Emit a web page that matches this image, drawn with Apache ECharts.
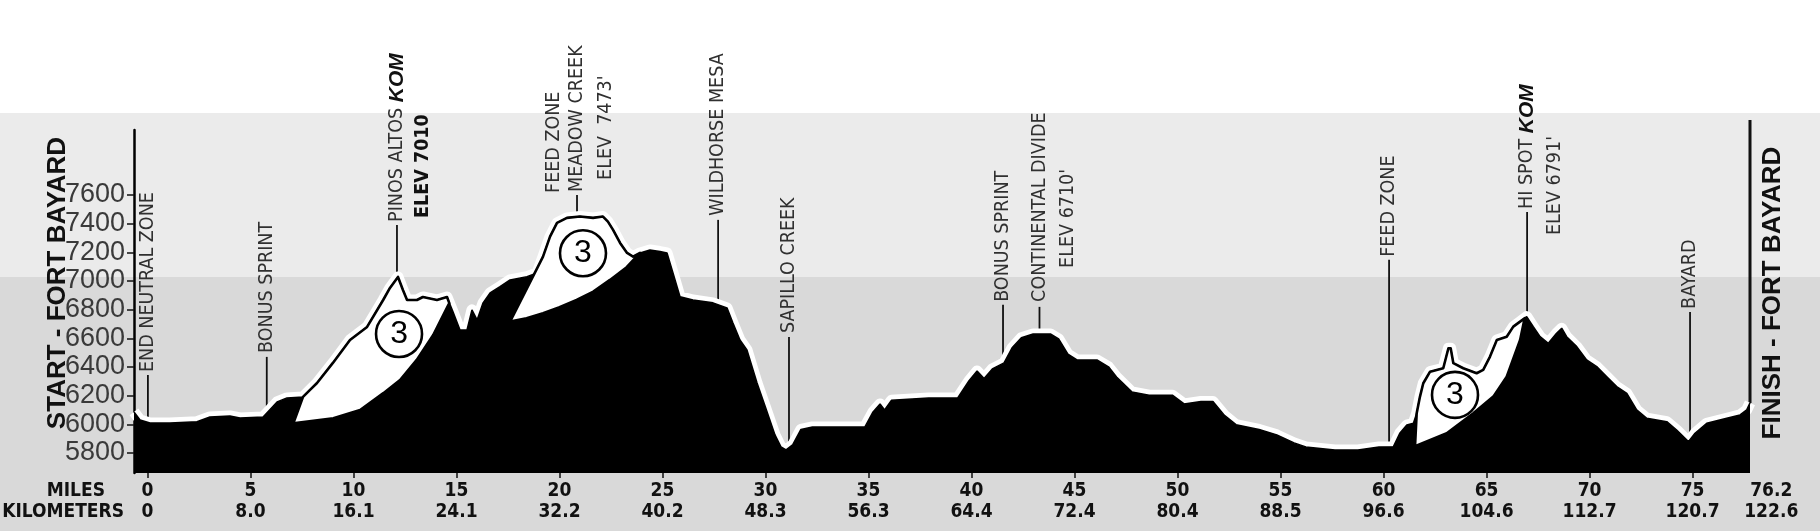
<!DOCTYPE html>
<html><head><meta charset="utf-8">
<script src="https://cdn.jsdelivr.net/npm/echarts@6/dist/echarts.min.js"></script>
<style>
html,body{margin:0;padding:0;}
body{width:1820px;height:531px;overflow:hidden;background:linear-gradient(to bottom,#ffffff 0,#ffffff 113px,#ebebeb 113px,#ebebeb 277px,#d9d9d9 277px,#d9d9d9 100%);}
#chart{width:1820px;height:531px;}
</style></head><body><div id="chart"></div>
<script>
// ---- DATA (miles, elevation ft) ----
const profile = [[-0.655,6086],[-0.36,6030],[0.12,6009],[1.09,6009],[2.4,6018],[3.03,6051],[4.0,6058],[4.49,6044],[5.61,6051],[6.29,6156],[6.77,6184],[7.55,6191],[7.89,6240],[8.23,6288],[9.0,6428],[9.83,6588],[10.66,6679],[11.44,6867],[11.77,6951],[12.16,7028],[12.4,6937],[12.6,6867],[13.08,6867],[13.37,6888],[14.05,6867],[14.54,6888],[14.83,6784],[15.17,6658],[15.51,6658],[15.75,6798],[16.0,6728],[16.29,6847],[16.63,6916],[17.11,6960],[17.6,7007],[18.42,7030],[18.91,7056],[19.2,7170],[19.54,7309],[19.88,7405],[20.36,7440],[20.99,7449],[21.63,7440],[22.11,7449],[22.35,7414],[22.6,7356],[22.94,7265],[23.28,7195],[23.57,7170],[23.91,7195],[24.39,7216],[24.88,7205],[25.22,7195],[25.51,7056],[25.85,6890],[26.48,6867],[27.45,6847],[28.13,6812],[28.42,6707],[28.76,6588],[29.1,6519],[29.59,6288],[30.02,6110],[30.46,5926],[30.75,5842],[31.0,5821],[31.33,5859],[31.72,5964],[32.28,5981],[34.82,5981],[35.22,6086],[35.56,6142],[35.78,6100],[36.11,6167],[37.92,6184],[39.33,6184],[39.88,6304],[40.27,6372],[40.61,6320],[41.01,6386],[41.58,6428],[41.97,6533],[42.42,6604],[42.99,6630],[43.83,6630],[44.23,6595],[44.68,6490],[45.12,6449],[46.09,6449],[46.65,6401],[47.04,6330],[47.78,6226],[48.62,6203],[49.75,6203],[50.32,6142],[51.14,6159],[51.72,6159],[52.28,6062],[52.84,5997],[53.96,5964],[54.82,5926],[55.66,5870],[56.23,5842],[57.64,5821],[58.76,5821],[59.78,5842],[60.48,5844],[60.8,5940],[61.13,5995],[61.45,6007],[61.61,6077],[61.77,6193],[61.93,6286],[62.26,6367],[62.9,6391],[63.15,6530],[63.26,6530],[63.39,6426],[63.87,6391],[64.52,6356],[64.84,6379],[65.17,6472],[65.5,6588],[65.98,6611],[66.3,6681],[66.63,6716],[66.95,6751],[67.27,6681],[67.6,6611],[68.0,6565],[68.4,6635],[68.65,6670],[68.89,6611],[69.38,6542],[69.86,6449],[70.35,6402],[70.84,6332],[71.32,6263],[71.81,6216],[72.29,6100],[72.78,6042],[73.75,6018],[74.23,5960],[74.8,5879],[75.12,5937],[75.69,6007],[76.66,6042],[77.31,6065],[77.63,6100],[77.79,6149]];

// lower edge of each climb wedge (start at foot, end at tip on profile)
const climbArc1 = [[7.08,6007],[9.02,6042],[10.32,6100],[11.45,6217],[12.26,6309],[13.07,6449],[13.87,6623],[14.65,6845]];
const climbArc2 = [[17.6,6716],[18.4,6740],[19.2,6775],[20.0,6816],[20.83,6867],[21.64,6925],[22.45,7007],[23.26,7096],[23.91,7195]];
const climbArc3 = [[61.53,5847],[63.07,5937],[64.36,6077],[65.33,6193],[65.98,6332],[66.63,6588],[66.85,6740]];
const climbArcs = [climbArc1, climbArc2, climbArc3];
const climbTops = [[7.5,14.6],[19.2,23.95],[61.6,66.7]];
const climbBadges = [[12.21,6630],[21.14,7193],[63.47,6205]];
const climbCategory = ['3','3','3'];

const markerMiles  = [0.02, 5.79, 12.11, 20.85, 27.7, 31.14, 41.53, 43.3, 60.27, 66.97, 74.88, 77.79];
const markerBottom = [6030, 6051, 7000, 7449, 6850, 5830, 6420, 6630, 5842, 6751, 5879, 6149];
const markerTop    = [6344, 6470, 7391, 7600, 7426, 6609, 6833, 6819, 7147, 7481, 6784, 8123];
const markerLabels = [
  ['END NEUTRAL ZONE'],
  ['BONUS SPRINT'],
  ['PINOS ALTOS {k|KOM}', '{b|ELEV 7010}'],
  ['FEED ZONE', 'MEADOW CREEK', "ELEV  7473'"],
  ['WILDHORSE MESA'],
  ['SAPILLO CREEK'],
  ['BONUS SPRINT'],
  ['CONTINENTAL DIVIDE', "ELEV 6710'"],
  ['FEED ZONE'],
  ['HI SPOT {k|KOM}', "ELEV 6791'"],
  ['BAYARD'],
  []
];

const mileLabels = ['0','5','10','15','20','25','30','35','40','45','50','55','60','65','70','75','76.2'];
const kmLabels   = ['0','8.0','16.1','24.1','32.2','40.2','48.3','56.3','64.4','72.4','80.4','88.5','96.6','104.6','112.7','120.7','122.6'];
const mileTicks  = [0,5,10,15,20,25,30,35,40,45,50,55,60,65,70,75];
const elevTicks  = [5800,6000,6200,6400,6600,6800,7000,7200,7400,7600];

// ---- LAYOUT (pixel offsets of label columns relative to line top) ----
const markerLayout = [
  [[0,-3]], [[0,-4]], [[0,-3],[26,-7]], [[-23,-2],[0,-3],[29,-15]], [[0,-4]], [[0,-4]],
  [[0,-3]], [[0,-5],[28,-39]], [[0,-3]], [[0,-3],[28,23]], [[0,-3]], []
];
const lastLabelShift = 54;
const NARROW = '"Liberation Sans Narrow","DejaVu Sans Condensed","Liberation Sans",sans-serif';
const SANS = '"Liberation Sans",Arial,sans-serif';

const mileLabelValues = mileLabels.map(Number);
const axisLabelValues = mileLabelValues.slice(0, -1);

const chart = echarts.init(document.getElementById('chart'), null, {renderer:'canvas'});

function renderMarker(params, api) {
  const i = params.dataIndex;
  const p1 = api.coord([markerMiles[i], markerBottom[i]]);
  const p2 = api.coord([markerMiles[i], markerTop[i]]);
  const children = [{
    type: 'line',
    shape: {x1: p1[0], y1: p1[1], x2: p2[0], y2: p2[1]},
    style: {stroke: '#111', lineWidth: i === markerMiles.length - 1 ? 3 : 1.8}
  }];
  markerLabels[i].forEach((t, j) => {
    const off = markerLayout[i][j];
    children.push({
      type: 'text',
      x: p2[0] + off[0], y: p2[1] + off[1],
      rotation: Math.PI / 2,
      style: {
        text: t, fill: '#303030', fontSize: 19.5, fontFamily: NARROW,
        align: 'left', verticalAlign: 'middle',
        rich: {
          k: {fontSize: 21, fontWeight: 'bold', fontStyle: 'italic', fontFamily: SANS, fill: '#111'},
          b: {fontSize: 19.5, fontWeight: 'bold', fontFamily: NARROW, fill: '#111'}
        }
      }
    });
  });
  return {type: 'group', children};
}

function renderWedge(params, api) {
  const i = params.dataIndex;
  const a = climbTops[i][0], b = climbTops[i][1];
  const top = profile.filter(p => p[0] >= a && p[0] <= b);
  const pts = top.concat(climbArcs[i].slice().reverse()).map(p => api.coord(p));
  return {type: 'polygon', shape: {points: pts}, style: {fill: '#fff', stroke: '#000', lineWidth: 2.6, lineJoin: 'round'}};
}

const option = {
  backgroundColor: 'transparent',
  animation: false,
  grid: {left: 134, right: 70, top: 130, bottom: 58},
  xAxis: {
    type: 'value', min: -0.655, max: 77.79,
    splitLine: {show: false},
    axisLine: {show: false, onZero: false},
    axisTick: {show: true, customValues: mileTicks, length: 5, lineStyle: {color: '#111', width: 1.5}},
    axisLabel: {
      customValues: axisLabelValues,
      margin: 8,
      fontSize: 19, fontWeight: 'bold', fontFamily: NARROW, color: '#111', lineHeight: 21,
      formatter: function (v) {
        const i = mileLabelValues.indexOf(v);
        if (i < 0) return '';
        return mileLabels[i] + '\n' + kmLabels[i];
      }
    }
  },
  yAxis: {
    type: 'value', min: 5660, max: 8053,
    splitLine: {show: false},
    axisLine: {show: true, onZero: false, lineStyle: {color: '#000', width: 2.5}},
    axisTick: {show: true, customValues: elevTicks, length: 7, lineStyle: {color: '#111', width: 1.5}},
    axisLabel: {customValues: elevTicks, margin: 9, fontSize: 27, fontFamily: SANS, color: '#3a3a3a',
      formatter: v => String(v)}
  },
  graphic: [
    {type: 'text', x: 58, y: 283, rotation: Math.PI / 2, style: {text: 'START - FORT BAYARD', fontSize: 26, fontWeight: 'bold', fontFamily: SANS, fill: '#111', align: 'center', verticalAlign: 'middle'}},
    {type: 'text', x: 1773, y: 293, rotation: Math.PI / 2, style: {text: 'FINISH - FORT BAYARD', fontSize: 26, fontWeight: 'bold', fontFamily: SANS, fill: '#111', align: 'center', verticalAlign: 'middle'}},
    {type: 'text', x: 105, y: 491, style: {text: 'MILES', fontSize: 19, fontWeight: 'bold', fontFamily: NARROW, fill: '#111', align: 'right', verticalAlign: 'middle'}},
    {type: 'text', x: 124, y: 512, style: {text: 'KILOMETERS', fontSize: 19, fontWeight: 'bold', fontFamily: NARROW, fill: '#111', align: 'right', verticalAlign: 'middle'}}
  ],
  series: [
    {type: 'custom', name: 'markers', z: 1, clip: false, silent: true,
     data: markerMiles.map((m, i) => [m, markerTop[i]]), encode: {x: 0, y: 1}, renderItem: renderMarker},
    {type: 'line', name: 'halo', z: 2, data: profile, symbol: 'none', silent: true,
     lineStyle: {color: '#fff', width: 11, join: 'round'}},
    {type: 'line', name: 'elevation', z: 3, data: profile, symbol: 'none', silent: true,
     lineStyle: {color: '#000', width: 1.5},
     areaStyle: {color: '#000', opacity: 1, origin: 'start'}},
    {type: 'custom', name: 'climbs', z: 4, silent: true,
     data: climbBadges.map((b, i) => [b[0], b[1], i]), encode: {x: 0, y: 1}, renderItem: renderWedge},
    {type: 'scatter', name: 'category', z: 5, silent: true,
     data: climbBadges.map((b, i) => [b[0], b[1], climbCategory[i]]),
     symbol: 'circle', symbolSize: 46,
     itemStyle: {color: '#fff', borderColor: '#000', borderWidth: 2.6, opacity: 1},
     label: {show: true, position: 'inside', formatter: p => p.value[2], fontSize: 32, fontFamily: SANS, color: '#000'}}
  ]
};
chart.setOption(option);

// last distance label (76.2 mi / 122.6 km) sits just right of the finish line
const last = mileLabels.length - 1;
const lastPt = chart.convertToPixel({xAxisIndex: 0, yAxisIndex: 0}, [mileLabelValues[last], 5660]);
chart.setOption({graphic: option.graphic.concat([
  {type: 'text', x: lastPt[0] + lastLabelShift, y: 491, style: {text: mileLabels[last], fontSize: 19, fontWeight: 'bold', fontFamily: NARROW, fill: '#111', align: 'center', verticalAlign: 'middle'}},
  {type: 'text', x: lastPt[0] + lastLabelShift, y: 512, style: {text: kmLabels[last], fontSize: 19, fontWeight: 'bold', fontFamily: NARROW, fill: '#111', align: 'center', verticalAlign: 'middle'}}
])});
</script>
</body></html>
